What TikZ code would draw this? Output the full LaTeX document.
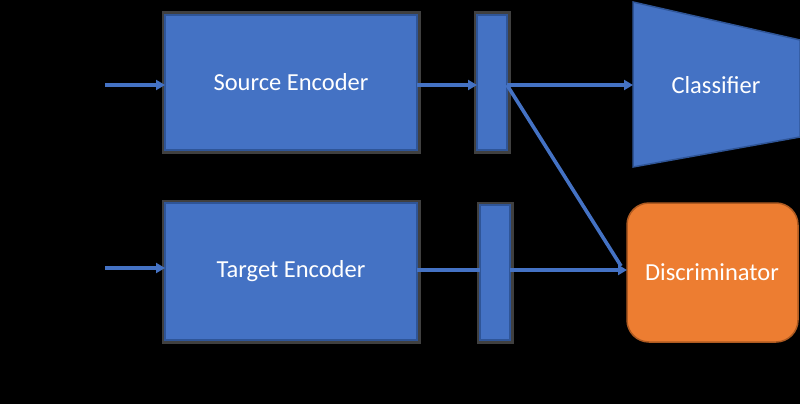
\documentclass[tikz,border=0pt]{standalone}
\usepackage{fontspec}
\setmainfont{Carlito}
\usetikzlibrary{arrows.meta}
\definecolor{bfill}{HTML}{4472C4}
\definecolor{bdraw}{HTML}{2F5597}
\definecolor{ofill}{HTML}{ED7D31}
\definecolor{odraw}{HTML}{AE5A21}
\definecolor{halo}{HTML}{404040}
\begin{document}
\begin{tikzpicture}[x=1pt,y=-1pt,
  blk/.style={draw=bdraw,fill=bfill,line width=1.5pt},
  lbl/.style={text=white,font=\fontsize{24.5}{28}\selectfont},
  halobox/.style={draw=halo,line width=7pt},
  conn/.style={draw=bfill,line width=3.6pt,-{Triangle[length=9pt,width=10pt]}},
  plain/.style={draw=bfill,line width=3.6pt}]
\fill[black] (0,0) rectangle (800,404);
\useasboundingbox (0,0) rectangle (800,404);
% halos
\draw[halobox] (165,15) rectangle (417,150);
\draw[halobox] (165,203) rectangle (417,340);
\draw[halobox] (477,15) rectangle (507,150);
\draw[halobox] (480,205) rectangle (510,340);
% boxes
\path[blk] (165,15) rectangle (417,150);
\node[lbl] (se) at (291,82.5) {Source Encoder};
\path[blk] (165,203) rectangle (417,340);
\node[lbl] (te) at (291,271.5) {Target Encoder};
\path[blk] (477,15) rectangle (507,150);
\path[blk] (480,205) rectangle (510,340);
\path[blk] (633,2) -- (800,40) -- (800,137) -- (633,167) -- cycle;
\node[lbl] (cl) at (716,85) {Classifier};
\path[draw=odraw,fill=ofill,line width=1.5pt,rounded corners=22pt] (627,203) rectangle (798,342);
\node[lbl] (di) at (712,272) {Discriminator};
% coordinates
\coordinate (sin) at (105,85);
\coordinate (sein) at (165,85);
\coordinate (seout) at (417,85);
\coordinate (r1in) at (477,85);
\coordinate (r1out) at (507,85);
\coordinate (clin) at (633,85);
\coordinate (tin) at (105,268);
\coordinate (tein) at (165,268);
\coordinate (teout) at (417,270);
\coordinate (r2in) at (480,270);
\coordinate (r2out) at (510,270);
\coordinate (diin) at (627,270);
% connectors
\draw[conn] (sin) -- (sein);
\draw[conn] (tin) -- (tein);
\draw[conn] (seout) -- (r1in);
\draw[conn] (r1out) -- (clin);
\draw[plain] (teout) -- (r2in);
\draw[plain] (r1out) -- (621,266);
\draw[conn] (r2out) -- (diin);
\end{tikzpicture}
\end{document}
